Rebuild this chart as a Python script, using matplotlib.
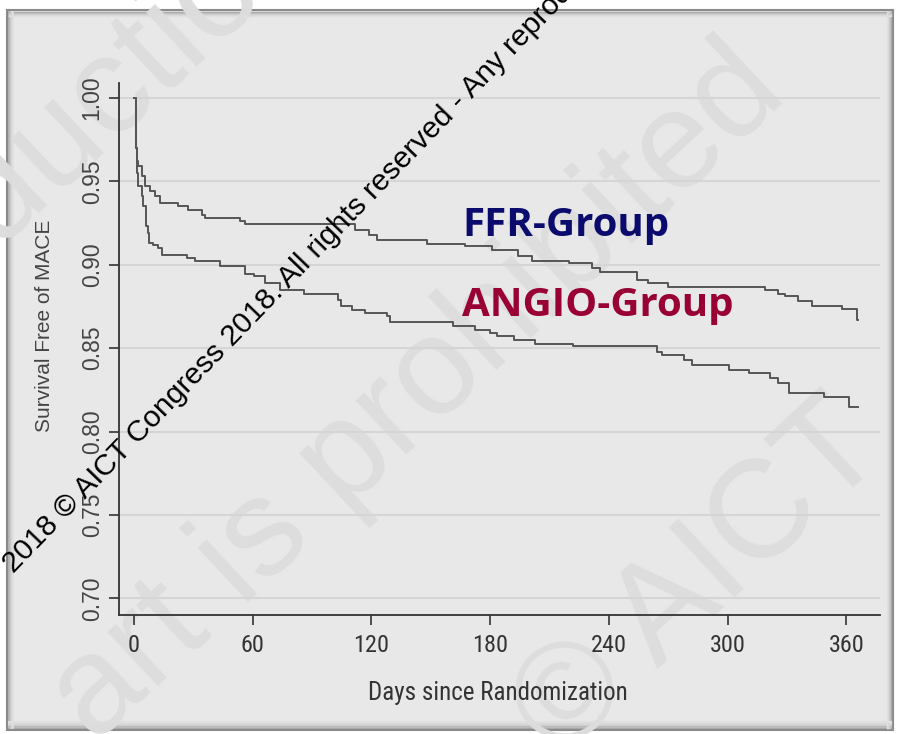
import matplotlib
matplotlib.use("Agg")
import matplotlib.pyplot as plt
from matplotlib import font_manager
from matplotlib.font_manager import FontProperties
from matplotlib.patches import Rectangle
from matplotlib.lines import Line2D

# ---------------- data ----------------
ffr_days = [0, 1.0, 1.5, 2.2, 3.9, 5.6, 8.1, 10.6, 13.1, 22.4, 27.5, 34.2, 35.9,
            53.6, 56.0, 111.7, 118.5, 122.7, 148.0, 167.3, 180.8, 194.3, 201.0,
            219.6, 231.4, 235.6, 254.1, 260.0, 270.0, 319.0, 325.7, 329.0, 335.8,
            342.6, 357.8, 365.5, 366.0]
ffr_surv = [1.000, 0.970, 0.962, 0.959, 0.953, 0.947, 0.944, 0.941, 0.937, 0.935,
            0.933, 0.930, 0.928, 0.926, 0.9245, 0.921, 0.918, 0.9146, 0.9124,
            0.911, 0.9086, 0.905, 0.9024, 0.901, 0.898, 0.8954, 0.891, 0.889,
            0.8866, 0.8846, 0.8826, 0.881, 0.8784, 0.8754, 0.8735, 0.8667, 0.8667]

angio_days = [0, 1.0, 1.5, 2.2, 3.9, 4.7, 5.9, 6.9, 7.6, 9.8, 12.3, 14.0, 26.6,
              30.8, 43.5, 56.0, 60.5, 66.2, 73.8, 86.0, 103.3, 104.5, 110.0,
              116.8, 127.7, 129.4, 161.4, 172.4, 180.0, 183.4, 191.8, 202.7,
              222.0, 264.3, 266.8, 277.7, 282.0, 300.5, 310.6, 321.5, 325.7,
              330.8, 348.5, 361.1, 366.0]
angio_surv = [1.000, 0.970, 0.955, 0.947, 0.941, 0.935, 0.923, 0.919, 0.913,
              0.912, 0.910, 0.906, 0.904, 0.902, 0.899, 0.8946, 0.893, 0.889,
              0.8846, 0.8826, 0.879, 0.875, 0.873, 0.871, 0.869, 0.8655, 0.8635,
              0.861, 0.859, 0.857, 0.8547, 0.8527, 0.851, 0.848, 0.846, 0.843,
              0.840, 0.837, 0.835, 0.832, 0.829, 0.823, 0.8207, 0.8148, 0.8148]

x_ticks = [0, 60, 120, 180, 240, 300, 360]
y_ticks = [0.70, 0.75, 0.80, 0.85, 0.90, 0.95, 1.00]
y_tick_labels = ["0.70", "0.75", "0.80", "0.85", "0.90", "0.95", "1.00"]

x_label = "Days since Randomization"
y_label = "Survival Free of MACE"
ffr_label = "FFR-Group"
angio_label = "ANGIO-Group"
watermark_small = "2018 \u00a9 AICT Congress 2018. All rights reserved - Any reproduction"

# ---------------- fonts ----------------
names = {f.name for f in font_manager.fontManager.ttflist}
narrow_fp = None
for cand in ["Liberation Sans Narrow", "Roboto Condensed", "Open Sans Condensed"]:
    if cand in names:
        narrow_fp = FontProperties(family=cand)
        break
if narrow_fp is None:
    has_cond = any(f.name == "DejaVu Sans" and str(f.stretch) in ("condensed", "semi-condensed")
                   for f in font_manager.fontManager.ttflist)
    narrow_fp = FontProperties(family="DejaVu Sans", stretch="condensed") if has_cond \
        else FontProperties(family="Liberation Sans")
bold_font = "Open Sans" if "Open Sans" in names else "DejaVu Sans"

W, H = 898, 734
fig = plt.figure(figsize=(W / 100, H / 100), dpi=100, facecolor="white")


def fx(px):
    return px / W


def fy(py):
    return 1 - py / H


# outer bevelled frame
fig.patches.append(Rectangle((fx(7), fy(730)), fx(893) - fx(7), fy(10) - fy(730),
                             transform=fig.transFigure, facecolor="#e8e8e8",
                             edgecolor="#8a8a8a", lw=1.5, zorder=-5))
for i, c in enumerate(["#a8a8a8", "#bcbcbc", "#cccccc", "#d8d8d8", "#e0e0e0"]):
    fig.add_artist(Line2D([fx(9 + i), fx(9 + i)], [fy(728), fy(12)], color=c, lw=1.2,
                          transform=fig.transFigure, zorder=-4))
    fig.add_artist(Line2D([fx(9), fx(891)], [fy(728 - i * 1.5), fy(728 - i * 1.5)],
                          color=c, lw=1.5, transform=fig.transFigure, zorder=-4))
    fig.add_artist(Line2D([fx(891 - i), fx(891 - i)], [fy(728), fy(12)], color=c, lw=1.0,
                          transform=fig.transFigure, zorder=-4))
    fig.add_artist(Line2D([fx(9), fx(891)], [fy(12 + i), fy(12 + i)], color=c, lw=1.0,
                          transform=fig.transFigure, zorder=-4))

# large faint background watermark
big_kw = dict(fontsize=100, color="#dddddd", rotation=43, rotation_mode="anchor",
              ha="left", va="baseline", family="Liberation Sans", zorder=-3)
fig.text(fx(95), fy(745), "art is prohibited", **big_kw)
fig.text(fx(-60), fy(300), "oduction", **big_kw)
fig.text(fx(560), fy(760), "\u00a9 AICT", **big_kw)

# ---------------- axes ----------------
ax = fig.add_axes([fx(119), fy(615), fx(880) - fx(119), fy(83) - fy(615)])
ax.set_facecolor("none")
ax.set_xlim(-7.6, 377)
ax.set_ylim(0.690, 1.009)
for s in ("top", "right"):
    ax.spines[s].set_visible(False)
for s in ("left", "bottom"):
    ax.spines[s].set_color("#333333")
    ax.spines[s].set_linewidth(1.3)

ax.set_xticks(x_ticks)
ax.set_xticklabels([str(v) for v in x_ticks], fontproperties=narrow_fp, fontsize=17.5,
                   color="#333333")
ax.set_yticks(y_ticks)
ax.set_yticklabels(y_tick_labels, rotation=90, va="center", family="Liberation Sans",
                   fontsize=16.5, color="#444444")
ax.tick_params(axis="both", direction="out", length=7, width=1.2, color="#333333")
ax.tick_params(axis="x", pad=7)
ax.tick_params(axis="y", pad=4)
ax.yaxis.grid(True, color="#d5d5d5", lw=1.5)
ax.set_axisbelow(True)

ax.step(ffr_days, ffr_surv, where="post", color="#555555", lw=1.4)
ax.step(angio_days, angio_surv, where="post", color="#555555", lw=1.4)

ax.text(165.8, 0.9170, ffr_label, color="#0b0b6e", fontsize=29, fontweight="bold",
        family=bold_font, ha="left", va="baseline")
ax.text(165.8, 0.8690, angio_label, color="#990033", fontsize=29, fontweight="bold",
        family=bold_font, ha="left", va="baseline")

fig.text(fx(498), fy(693), x_label, fontproperties=narrow_fp, fontsize=18, color="#333333",
         ha="center", va="center")
fig.text(fx(45), fy(326), y_label, family="Liberation Sans", fontsize=15, color="#444444",
         ha="center", va="center", rotation=90)

# small black diagonal watermark
fig.text(fx(14), fy(574), watermark_small, family="Liberation Sans", fontsize=21.5,
         color="black", rotation=46, rotation_mode="anchor", ha="left", va="baseline",
         zorder=10)

fig.savefig("out.png", dpi=100, facecolor="white")
